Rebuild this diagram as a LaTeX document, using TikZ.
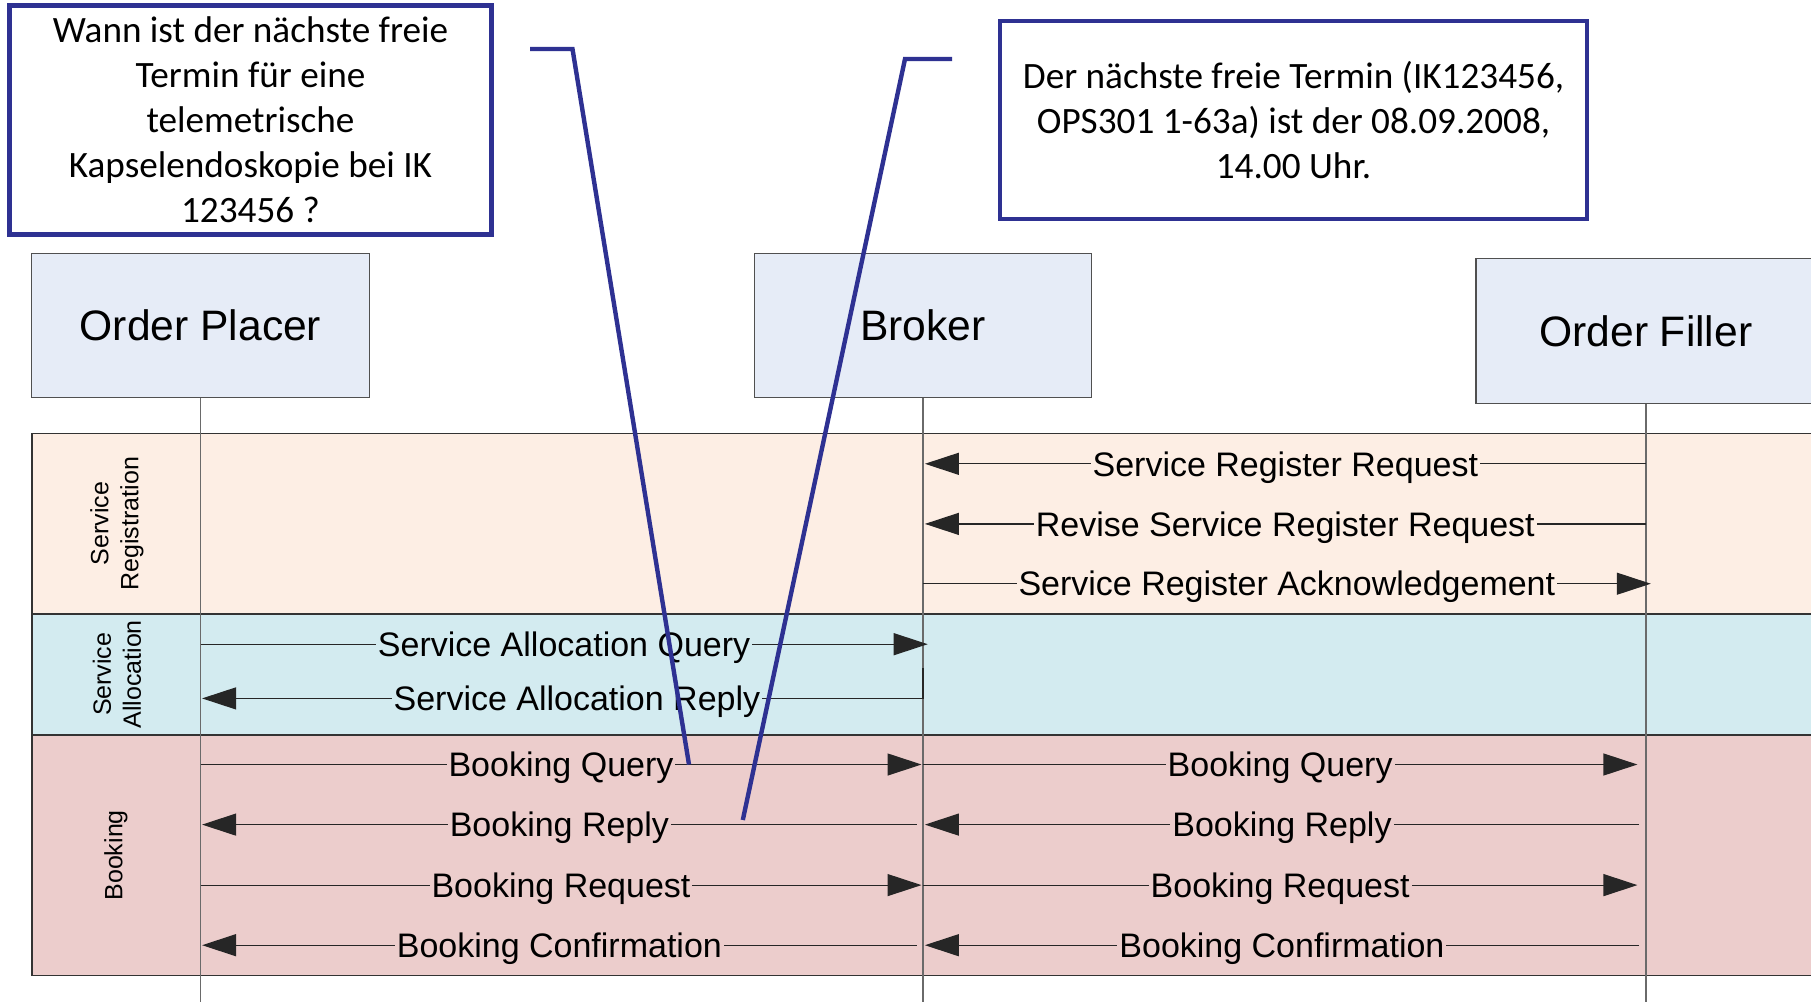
\documentclass[tikz,border=0pt]{standalone}
\usepackage{fontspec}
\setmainfont{Liberation Sans}
\newfontfamily\calloutfont{Carlito}
\usetikzlibrary{arrows.meta}

\definecolor{laneblue}{HTML}{E6ECF7}
\definecolor{regfill}{HTML}{FDEEE4}
\definecolor{allocfill}{HTML}{D3EBF0}
\definecolor{bookfill}{HTML}{ECCDCC}
\definecolor{noteblue}{HTML}{2E3192}
\definecolor{lifegray}{HTML}{6A6A6A}
\definecolor{bordergray}{HTML}{505050}

\begin{document}
\begin{tikzpicture}[x=0.5pt,y=-0.5pt,
  lanebox/.style={draw=bordergray, line width=0.7pt, fill=laneblue,
    font=\fontsize{21.3}{25}\selectfont, inner sep=0pt},
  bandrect/.style={draw=black!80, line width=0.7pt},
  bandlabel/.style={rotate=90, align=center, font=\fontsize{12.5}{15}\selectfont},
  lifeline/.style={draw=lifegray, line width=0.8pt},
  msgarrow/.style={draw=black!85, line width=0.6pt, -{Triangle[length=17pt,width=11pt]}},
  msgtext/.style={font=\fontsize{17}{20}\selectfont, text height=12.2pt,
    text depth=0pt, inner ysep=0pt, inner xsep=1pt},
  notebox/.style={draw=noteblue, line width=2.3pt, fill=white, align=center,
    font=\calloutfont\fontsize{18.6}{22.5}\selectfont, inner sep=0pt},
  noteleader/.style={draw=noteblue, line width=2.2pt},
]
\fill[white] (0,0) rectangle (1811,1002);
\useasboundingbox (0,0) rectangle (1811,1002);

% phase bands
\draw[bandrect, fill=regfill]   (31.8,433.5) rectangle (1840,613.8);
\draw[bandrect, fill=allocfill] (31.8,613.8) rectangle (1840,734.8);
\draw[bandrect, fill=bookfill]  (31.8,734.8) rectangle (1840,975.6);

\node[bandlabel] (lblReg)   at (117,523.7) {Service\\Registration};
\node[bandlabel] (lblAlloc) at (117,674.3) {Service\\Allocation};
\node[bandlabel] (lblBook)  at (116,855.3) {Booking};

% actors
\node[lanebox, minimum width=168.75pt, minimum height=72pt] (placer) at (200.5,325.3) {Order Placer};
\node[lanebox, minimum width=168.5pt, minimum height=72pt]  (broker) at (922.9,325.3) {Broker};
\node[lanebox, minimum width=170pt, minimum height=72.3pt]  (filler) at (1645.8,331)  {Order Filler};

% lifelines
\coordinate (placerEnd) at (200.5,1002);
\coordinate (brokerEnd) at (922.9,1002);
\coordinate (fillerEnd) at (1645.8,1002);
\draw[lifeline] (placer.south) -- (placerEnd);
\draw[lifeline] (broker.south) -- (brokerEnd);
\draw[lifeline] (filler.south) -- (fillerEnd);

% message rows
\coordinate (ySRR) at (0,463.8);
\coordinate (yRSR) at (0,523.9);
\coordinate (yACK) at (0,583.7);
\coordinate (ySAQ) at (0,644.2);
\coordinate (ySAR) at (0,698.4);
\coordinate (yBQ)  at (0,764.5);
\coordinate (yBRp) at (0,824.6);
\coordinate (yBRq) at (0,885.1);
\coordinate (yBC)  at (0,945.2);
\coordinate (sarTop) at (922.9,668);

% service registration
\draw[msgarrow] (filler.south |- ySRR) -- node[msgtext, fill=regfill] (tSRR) {Service Register Request} ([xshift=1pt]broker.south |- ySRR);
\draw[msgarrow] (filler.south |- yRSR) -- node[msgtext, fill=regfill] (tRSR) {Revise Service Register Request} ([xshift=1pt]broker.south |- yRSR);
\draw[msgarrow] (broker.south |- yACK) -- node[msgtext, fill=regfill] (tACK) {Service Register Acknowledgement} ([xshift=2.5pt]filler.south |- yACK);

% service allocation
\draw[msgarrow] (placer.south |- ySAQ) -- node[msgtext, fill=allocfill] (tSAQ) {Service Allocation Query} ([xshift=2.4pt]broker.south |- ySAQ);
\draw[msgarrow] (sarTop) |- node[pos=0.74, msgtext, fill=allocfill] (tSAR) {Service Allocation Reply} ([xshift=0.8pt]placer.south |- ySAR);

% booking
\draw[msgarrow] (placer.south |- yBQ) -- node[msgtext, fill=bookfill] (tBQ1) {Booking Query} ([xshift=-0.7pt]broker.south |- yBQ);
\draw[msgarrow] (broker.south |- yBQ) -- node[msgtext, fill=bookfill] (tBQ2) {Booking Query} ([xshift=-4.2pt]filler.south |- yBQ);
\draw[msgarrow] ([xshift=-3.1pt]broker.south |- yBRp) -- node[msgtext, fill=bookfill] (tBR1) {Booking Reply} ([xshift=0.8pt]placer.south |- yBRp);
\draw[msgarrow] ([xshift=-3.4pt]filler.south |- yBRp) -- node[msgtext, fill=bookfill] (tBR2) {Booking Reply} ([xshift=1pt]broker.south |- yBRp);
\draw[msgarrow] (placer.south |- yBRq) -- node[msgtext, fill=bookfill] (tBRq1) {Booking Request} ([xshift=-0.7pt]broker.south |- yBRq);
\draw[msgarrow] (broker.south |- yBRq) -- node[msgtext, fill=bookfill] (tBRq2) {Booking Request} ([xshift=-4.2pt]filler.south |- yBRq);
\draw[msgarrow] ([xshift=-3.1pt]broker.south |- yBC) -- node[msgtext, fill=bookfill] (tBC1) {Booking Confirmation} ([xshift=0.8pt]placer.south |- yBC);
\draw[msgarrow] ([xshift=-3.4pt]filler.south |- yBC) -- node[msgtext, fill=bookfill] (tBC2) {Booking Confirmation} ([xshift=1pt]broker.south |- yBC);

% annotations
\node[notebox, minimum width=241.25pt, minimum height=114.3pt] (askNote) at (250.5,120)
  {Wann ist der nächste freie\\Termin für eine\\telemetrische\\Kapselendoskopie bei IK\\123456 ?};
\node[notebox, minimum width=293.5pt, minimum height=99pt] (answerNote) at (1293.5,120)
  {Der nächste freie Termin (IK123456,\\OPS301 1-63a) ist der 08.09.2008,\\14.00 Uhr.};

\coordinate (askA) at (530,49);
\coordinate (askB) at (572.5,49);
\coordinate (askC) at (689,764.5);
\draw[noteleader] (askA) -- (askB) -- (askC);

\coordinate (ansA) at (952,59);
\coordinate (ansB) at (905,59);
\coordinate (ansC) at (742.8,820);
\draw[noteleader] (ansA) -- (ansB) -- (ansC);
\end{tikzpicture}
\end{document}
